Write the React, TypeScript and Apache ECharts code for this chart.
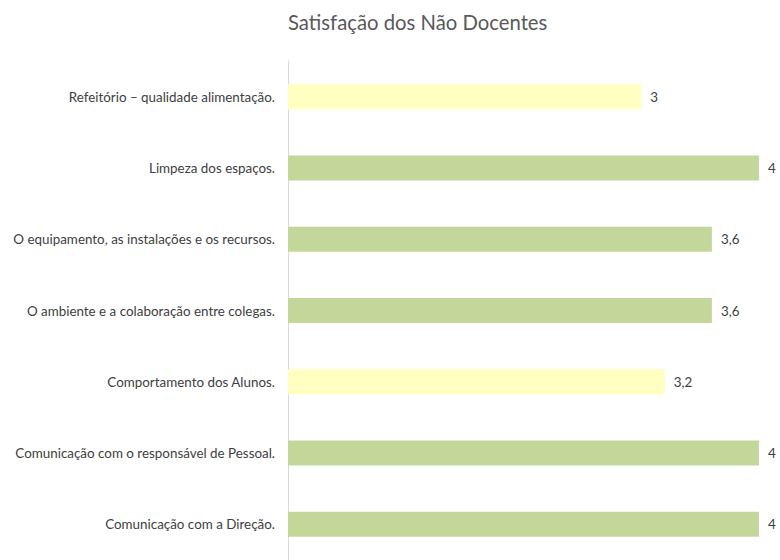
import React, { useEffect, useRef } from "react";
import * as echarts from "echarts";

const categories = [
  "Refeitório – qualidade alimentação.",
  "Limpeza dos espaços.",
  "O equipamento, as instalações e os recursos.",
  "O ambiente e a colaboração entre colegas.",
  "Comportamento dos Alunos.",
  "Comunicação com o responsável de Pessoal.",
  "Comunicação com a Direção.",
];
const values = [3, 4, 3.6, 3.6, 3.2, 4, 4];
const barColors = ["#FFFFC1", "#C4D79B", "#C4D79B", "#C4D79B", "#FFFFC1", "#C4D79B", "#C4D79B"];

const FONT = "Lato, 'Open Sans', sans-serif";

export default function App() {
  const ref = useRef<HTMLDivElement>(null);
  useEffect(() => {
    const chart = echarts.init(ref.current!, null, { renderer: "svg" });
    chart.setOption({
      animation: false,
      title: {
        text: "Satisfação dos Não Docentes",
        left: 283,
        top: 7,
        textStyle: { fontFamily: FONT, fontSize: 20.3, fontWeight: "normal", color: "#595959" },
      },
      grid: { left: 288, right: 21, top: 61, height: 506, containLabel: false },
      xAxis: {
        type: "value",
        min: 0,
        max: 4,
        show: false,
      },
      yAxis: {
        type: "category",
        inverse: true,
        data: categories,
        axisLine: { show: true, lineStyle: { color: "#D9D9D9", width: 1 } },
        axisTick: { show: false },
        axisLabel: { fontFamily: FONT, fontSize: 13.4, color: "#404040", margin: 13 },
      },
      series: [
        {
          type: "bar",
          barWidth: 25,
          data: values.map((v, i) => ({ value: v, itemStyle: { color: barColors[i] } })),
          label: {
            show: true,
            position: "right",
            distance: 9,
            fontFamily: FONT,
            fontSize: 13.4,
            color: "#404040",
            formatter: (p: any) => String(p.value).replace(".", ","),
          },
        },
      ],
    });
    return () => chart.dispose();
  }, []);
  return <div ref={ref} style={{ width: 780, height: 560, position: "absolute", left: 0, top: 0 }} />;
}
